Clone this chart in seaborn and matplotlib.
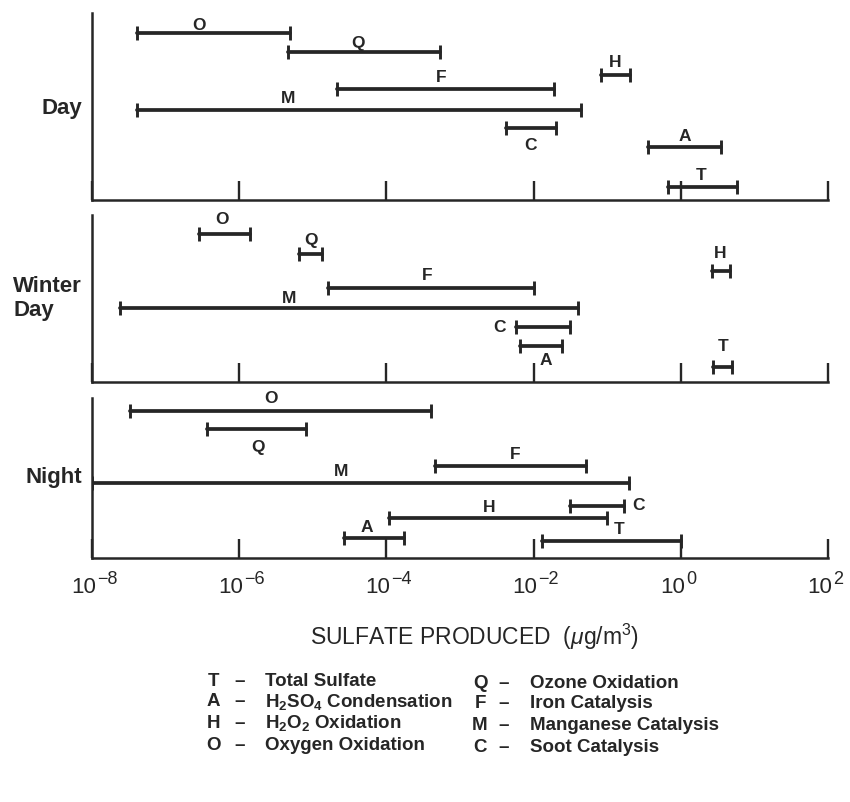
import matplotlib
matplotlib.use("Agg")
import matplotlib.pyplot as plt
import pandas as pd
import seaborn as sns

# ---------------------------------------------------------------------------
# Ranges of sulfate produced by each process, as log10(µg/m3)
# ---------------------------------------------------------------------------
day_proc = ["O", "Q", "H", "F", "M", "C", "A", "T"]
day_low = [-7.39, -5.34, -1.09, -4.67, -7.39, -2.37, -0.44, -0.18]
day_high = [-5.31, -3.27, -0.69, -1.72, -1.36, -1.70, 0.55, 0.77]

winter_proc = ["O", "Q", "H", "F", "M", "C", "A", "T"]
winter_low = [-6.54, -5.19, 0.43, -4.79, -7.62, -2.24, -2.19, 0.44]
winter_high = [-5.85, -4.87, 0.67, -2.00, -1.39, -1.50, -1.61, 0.69]

night_proc = ["O", "Q", "F", "M", "C", "H", "A", "T"]
night_low = [-7.49, -6.44, -3.34, -8.00, -1.50, -3.96, -4.57, -1.88]
night_high = [-3.39, -5.09, -1.29, -0.70, -0.77, -1.00, -3.76, 0.00]

panel_names = ["Day", "Winter\nDay", "Night"]
tick_exps = [-8, -6, -4, -2, 0, 2]
x_title = "SULFATE PRODUCED  ($\\mu$g/m$^3$)"

legend_left_codes = ["T", "A", "H", "O"]
legend_left_names = ["Total Sulfate",
                     "H$_\\mathbf{2}$SO$_\\mathbf{4}$ Condensation",
                     "H$_\\mathbf{2}$O$_\\mathbf{2}$ Oxidation",
                     "Oxygen Oxidation"]
legend_right_codes = ["Q", "F", "M", "C"]
legend_right_names = ["Ozone Oxidation", "Iron Catalysis",
                      "Manganese Catalysis", "Soot Catalysis"]

# ---------------------------------------------------------------------------
# Layout: row heights of the bars, letter placement, panel boxes (pixels)
# ---------------------------------------------------------------------------
day_lane = [8.77, 7.77, 6.58, 5.83, 4.74, 3.77, 2.81, 0.70]
winter_lane = [7.81, 6.76, 5.84, 4.97, 3.91, 2.89, 1.89, 0.79]
night_lane = [7.75, 6.80, 4.82, 3.94, 2.75, 2.10, 1.05, 0.87]

day_tag_x = [-6.54, -4.39, -0.89, -3.26, -5.34, -2.04, 0.05, 0.27]
day_tag_dy = [8.3, 9.3, 12, 11.3, 11, -16.7, 9.7, 10.7]
winter_tag_x = [-6.24, -5.03, 0.53, -3.45, -5.32, -2.46, -1.84, 0.57]
winter_tag_dy = [14.5, 13, 17.7, 12.3, 9.3, 0, -14.3, 20]
night_tag_x = [-5.57, -5.74, -2.25, -4.62, -0.58, -2.60, -4.27, -0.84]
night_tag_dy = [12, -19, 11.7, 11.6, 0, 10.6, 10.3, 11.7]

W, H = 850, 802
LANE_PX = 19.0
left_px, right_px = 92, 828
panel_px = [(13, 200), (215, 382), (398, 558)]   # (top, axis line)
ink = "#262626"

sns.set_theme(style="white")
plt.rcParams["font.family"] = ["Liberation Sans", "DejaVu Sans"]
plt.rcParams["mathtext.fontset"] = "custom"
plt.rcParams["mathtext.rm"] = "Liberation Sans"
plt.rcParams["mathtext.it"] = "Liberation Sans:italic"
plt.rcParams["mathtext.bf"] = "Liberation Sans:bold"
plt.rcParams["text.color"] = ink

fig = plt.figure(figsize=(W / 100, H / 100), dpi=100)
fig.patch.set_facecolor("white")

panels = [
    (day_proc, day_low, day_high, day_lane, day_tag_x, day_tag_dy),
    (winter_proc, winter_low, winter_high, winter_lane, winter_tag_x, winter_tag_dy),
    (night_proc, night_low, night_high, night_lane, night_tag_x, night_tag_dy),
]

PT = 0.72  # points per pixel at 100 dpi

for i, (proc, low, high, lane, tag_x, tag_dy) in enumerate(panels):
    top, base = panel_px[i]
    ax = fig.add_axes([left_px / W, 1 - base / H,
                       (right_px - left_px) / W, (base - top) / H])
    ax.set_facecolor("none")

    rows = []
    for k, p in enumerate(proc):
        rows.append({"bar": k, "x": 10 ** low[k], "lane": lane[k]})
        rows.append({"bar": k, "x": 10 ** high[k], "lane": lane[k]})
    df = pd.DataFrame(rows)

    ax.set_xscale("log")
    sns.lineplot(data=df, x="x", y="lane", units="bar", estimator=None,
                 sort=False, color=ink, lw=2.7, ax=ax, legend=False)
    sns.scatterplot(data=df, x="x", y="lane", marker="|", s=100,
                    linewidth=2.1, color=ink, ax=ax, legend=False, zorder=3)

    for k, p in enumerate(proc):
        ax.annotate(p, xy=(10 ** tag_x[k], lane[k]),
                    xytext=(0, tag_dy[k] * PT), textcoords="offset points",
                    ha="center", va="center", fontsize=12.5,
                    fontweight="bold", color=ink)

    ax.set_xlim(10.0 ** tick_exps[0], 10.0 ** tick_exps[-1])
    ax.set_ylim(0, (base - top) / LANE_PX)
    ax.set_xticks([10.0 ** e for e in tick_exps])
    ax.xaxis.set_minor_locator(matplotlib.ticker.NullLocator())
    ax.set_xticklabels([])
    ax.set_yticks([])
    ax.set_xlabel("")
    ax.set_ylabel("")
    ax.tick_params(axis="x", which="major", direction="in", length=14,
                   width=1.7, color=ink, bottom=True)
    for side in ("top", "right"):
        ax.spines[side].set_visible(False)
    for side in ("left", "bottom"):
        ax.spines[side].set_color(ink)
        ax.spines[side].set_linewidth(1.8)

    # panel title to the left of the axis
    ax.text(-10 / (right_px - left_px), 0.5 if i != 0 else 0.49,
            panel_names[i], transform=ax.transAxes, ha="right", va="center",
            multialignment="left", fontsize=16, fontweight="bold",
            color=ink, linespacing=1.15)

    if i == len(panels) - 1:
        xt = ax.get_xaxis_transform()
        for e in tick_exps:
            ax.annotate("10", xy=(10.0 ** e, 0), xycoords=xt,
                        xytext=(4 * PT, -19 * PT), textcoords="offset points",
                        ha="right", va="top", fontsize=16, color=ink)
            ax.annotate(str(e).replace("-", "\u2212"), xy=(10.0 ** e, 0),
                        xycoords=xt, xytext=(5 * PT, -13 * PT),
                        textcoords="offset points", ha="left", va="top",
                        fontsize=13, color=ink)

# axis title
fig.text(475 / W, 1 - 637 / H, x_title, ha="center", va="center",
         fontsize=16.5, color=ink)

# key to the process letters
rows_y1 = [681, 702, 723, 745]
rows_y2 = [683, 704, 725, 747]
for codes, names, ys, xc, xd, xt in [
        (legend_left_codes, legend_left_names, rows_y1, 213, 240, 265),
        (legend_right_codes, legend_right_names, rows_y2, 480, 504, 530)]:
    for c, n, y in zip(codes, names, ys):
        fig.text(xc / W, 1 - y / H, c, ha="center", va="center",
                 fontsize=13.5, fontweight="bold", color=ink)
        fig.text(xd / W, 1 - y / H, "\u2013", ha="center", va="center",
                 fontsize=13.5, fontweight="bold", color=ink)
        fig.text(xt / W, 1 - y / H, n, ha="left", va="center",
                 fontsize=13.5, fontweight="bold", color=ink)

fig.savefig("out.png", dpi=100, facecolor="white")
